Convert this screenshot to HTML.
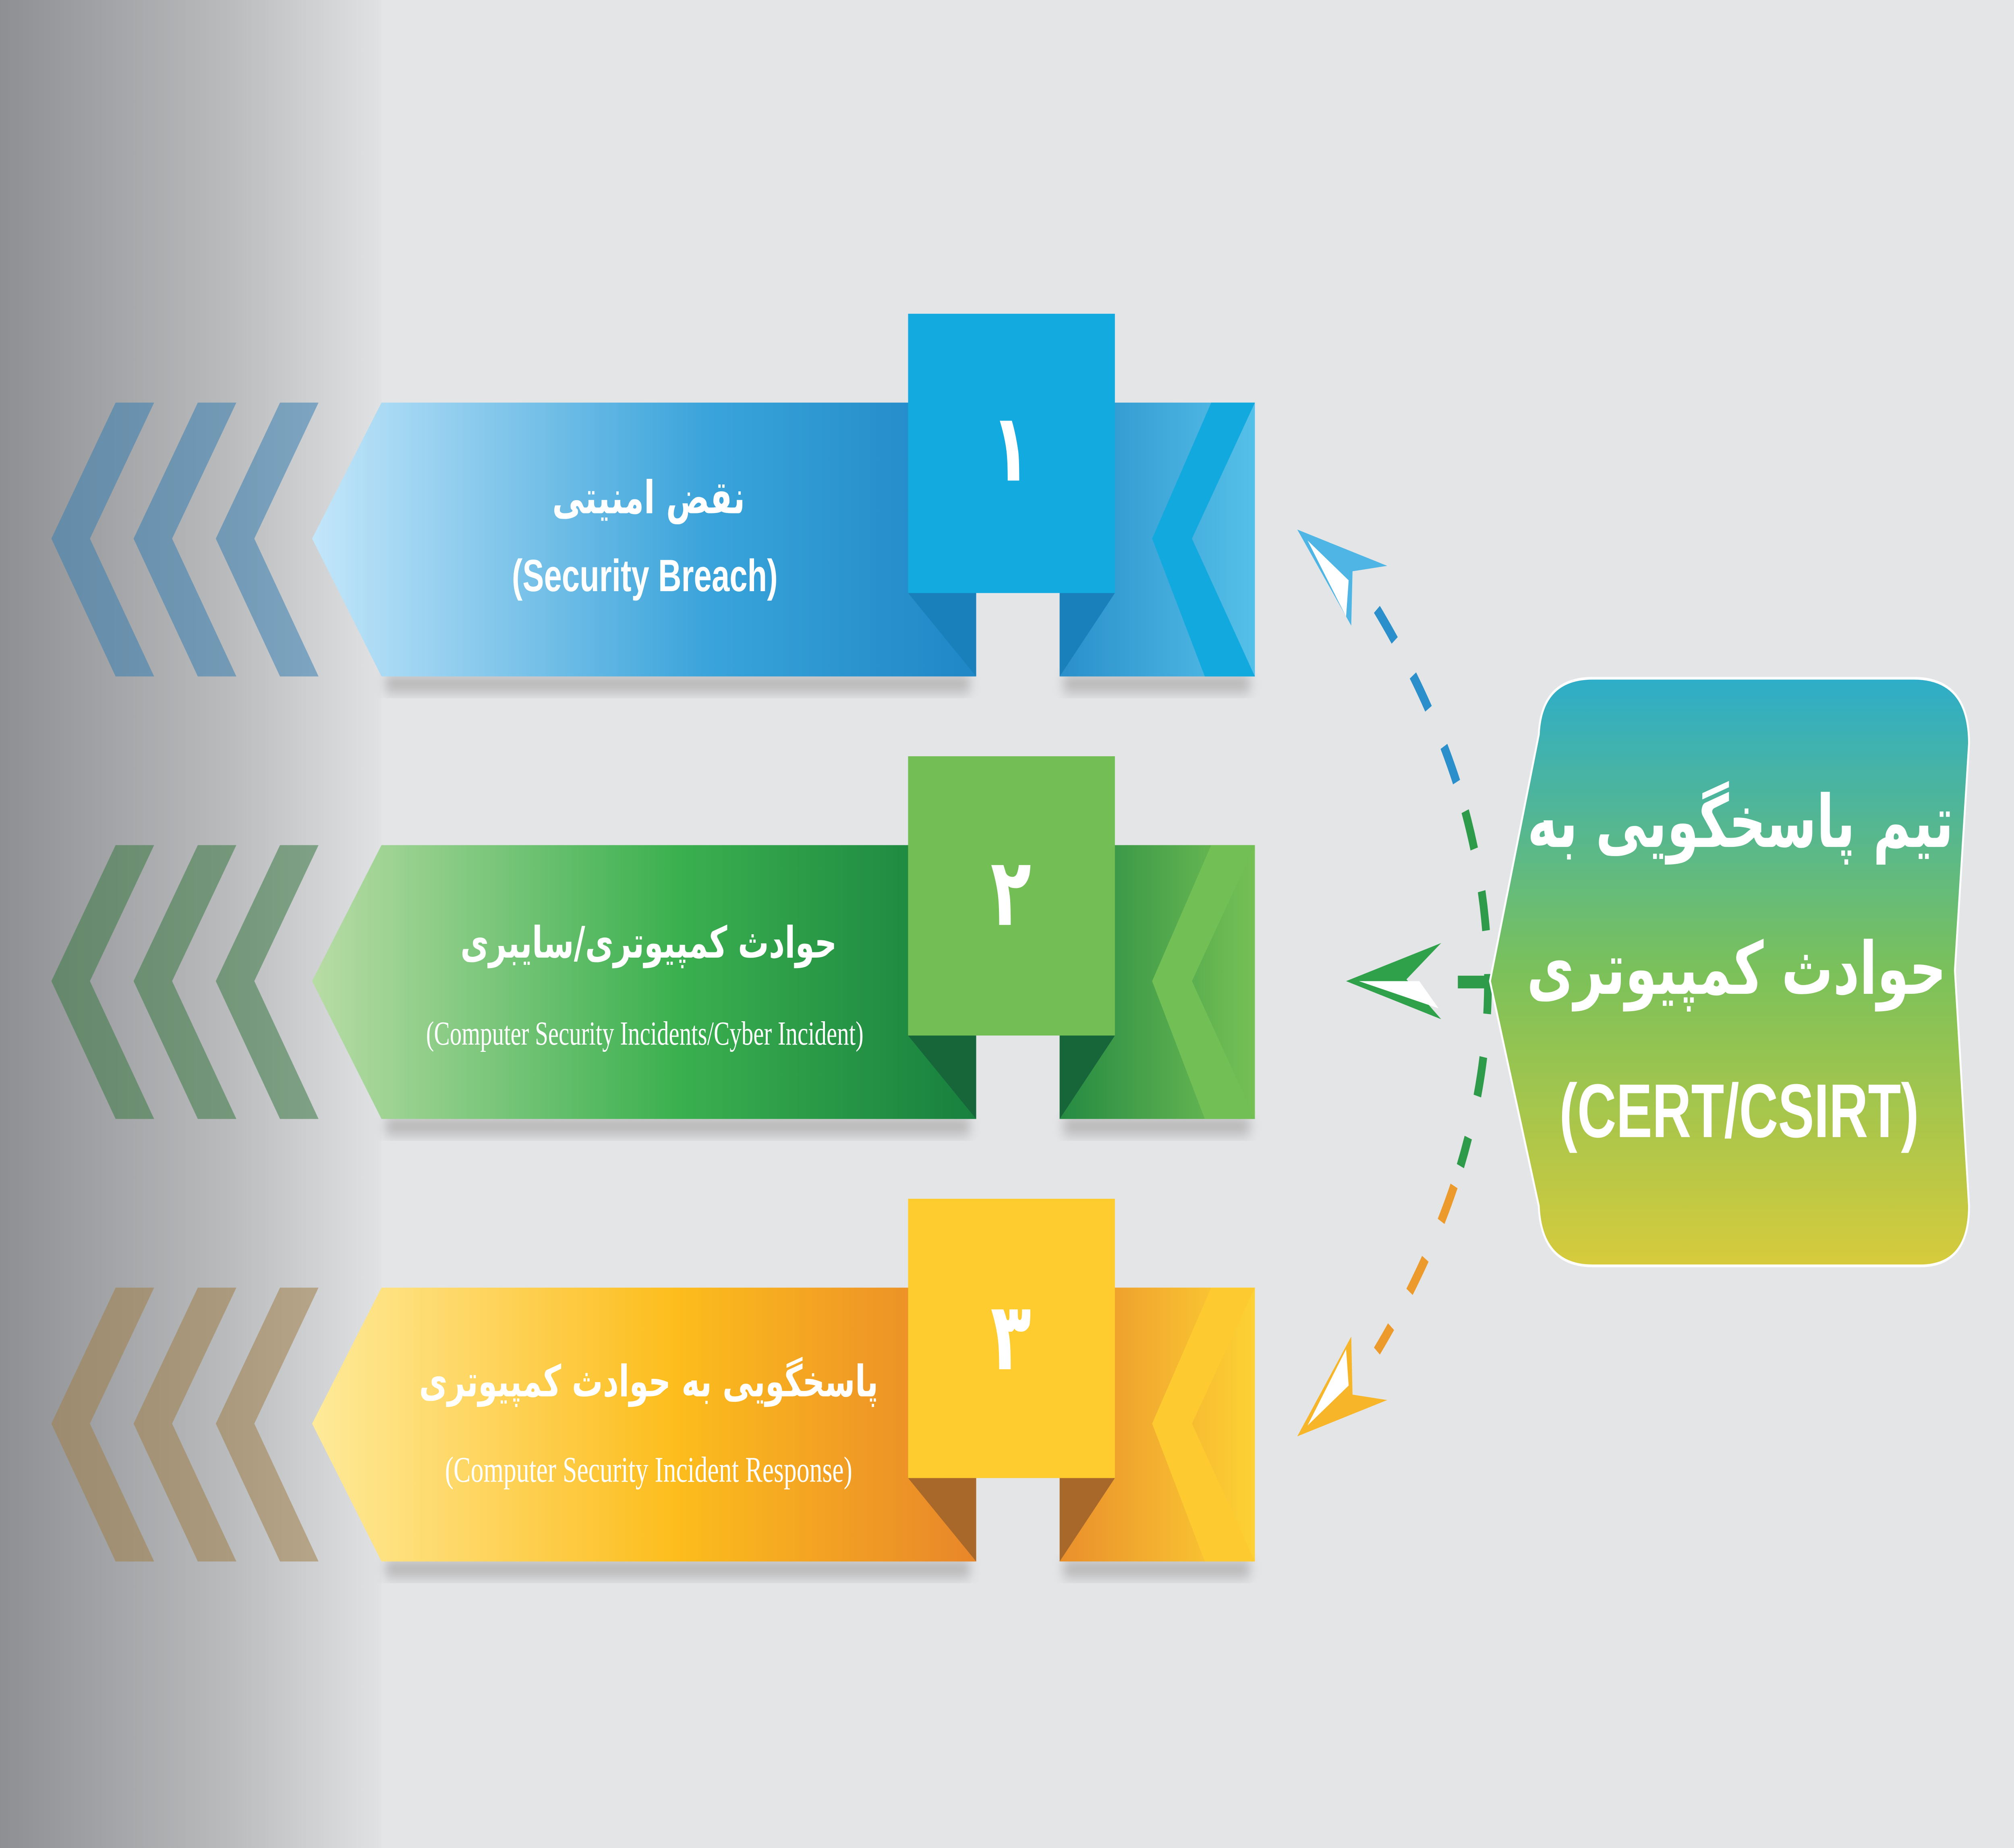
<!DOCTYPE html>
<html><head><meta charset="utf-8"><style>
html,body{margin:0;padding:0;background:#e3e5e7;width:100%;height:100%;overflow:hidden}
svg{position:fixed;left:0;top:0;width:100vw;height:100vh;display:block}
</style></head>
<body>
<svg viewBox="0 0 1568 1019" preserveAspectRatio="none" xmlns="http://www.w3.org/2000/svg">
<defs>
<linearGradient id="side" x1="0" x2="1" y1="0" y2="0"><stop offset="0" stop-color="#8d8f92"/><stop offset="0.6" stop-color="#b9bbbd"/><stop offset="1" stop-color="#e1e2e4"/></linearGradient>
<linearGradient id="b1" x1="0" x2="1"><stop offset="0" stop-color="#c3e6fa"/><stop offset="0.6" stop-color="#39a3da"/><stop offset="1" stop-color="#1f87c6"/></linearGradient>
<linearGradient id="b1r" x1="0" x2="1"><stop offset="0" stop-color="#2a8fca"/><stop offset="1" stop-color="#55c0e9"/></linearGradient>
<linearGradient id="g1" x1="0" x2="1"><stop offset="0" stop-color="#b8dca5"/><stop offset="0.55" stop-color="#3bb04f"/><stop offset="1" stop-color="#17803e"/></linearGradient>
<linearGradient id="g1r" x1="0" x2="1"><stop offset="0" stop-color="#258a42"/><stop offset="1" stop-color="#76c155"/></linearGradient>
<linearGradient id="o1" x1="0" x2="1"><stop offset="0" stop-color="#feea99"/><stop offset="0.55" stop-color="#fdbd1c"/><stop offset="1" stop-color="#e8862a"/></linearGradient>
<linearGradient id="o1r" x1="0" x2="1"><stop offset="0" stop-color="#ea8f2b"/><stop offset="1" stop-color="#fdd234"/></linearGradient>
<linearGradient id="box" x1="0" x2="0" y1="0" y2="1"><stop offset="0" stop-color="#2eadc9"/><stop offset="0.5" stop-color="#7bc15a"/><stop offset="1" stop-color="#d7cb3c"/></linearGradient>
<filter id="sh" x="-10%" y="-50%" width="120%" height="200%"><feGaussianBlur stdDeviation="4"/></filter>
</defs>
<rect width="1568" height="1019" fill="#e3e5e7"/>
<rect width="297" height="1019" fill="url(#side)"/>

<g>
<rect x="300" y="373" width="455" height="8" fill="#8a8686" opacity="0.6" filter="url(#sh)"/>
<rect x="828" y="373" width="145" height="8" fill="#8a8686" opacity="0.6" filter="url(#sh)"/>
<g fill="#3a7fb0" opacity="0.55">
<polygon points="40,297 90,222 120,222 70,297 120,373 90,373"/>
<polygon points="104,297 154,222 184,222 134,297 184,373 154,373"/>
<polygon points="168,297 218,222 248,222 198,297 248,373 218,373"/>
</g>
<polygon points="297,222 760,222 760,373 297,373 243,297" fill="url(#b1)"/>
<rect x="825" y="222" width="152" height="151" fill="url(#b1r)"/>
<polygon points="943,222 977,222 928,297 977,373 938,373 897,297" fill="#12a9de"/>
<polygon points="707,327 760,327 760,373" fill="#1a80bc"/>
<polygon points="825,327 868,327 825,373" fill="#1a80bc"/>
<rect x="707" y="173" width="161" height="154" fill="#13aadf"/>
<text x="787" y="265" font-family="DejaVu Sans, sans-serif" font-size="52" font-weight="bold" fill="#fff" text-anchor="middle">۱</text>
<text x="505" y="283" font-family="DejaVu Sans, sans-serif" font-size="25" font-weight="bold" fill="#fff" text-anchor="middle" direction="rtl">نقض امنیتی</text>
<text x="502" y="326" font-family="Liberation Sans, sans-serif" font-size="25" font-weight="bold" fill="#fff" text-anchor="middle">(Security Breach)</text>
</g>

<g>
<rect x="300" y="617" width="455" height="8" fill="#8a8686" opacity="0.6" filter="url(#sh)"/>
<rect x="828" y="617" width="145" height="8" fill="#8a8686" opacity="0.6" filter="url(#sh)"/>
<g fill="#3d7a45" opacity="0.55">
<polygon points="40,541 90,466 120,466 70,541 120,617 90,617"/>
<polygon points="104,541 154,466 184,466 134,541 184,617 154,617"/>
<polygon points="168,541 218,466 248,466 198,541 248,617 218,617"/>
</g>
<polygon points="297,466 760,466 760,617 297,617 243,541" fill="url(#g1)"/>
<rect x="825" y="466" width="152" height="151" fill="url(#g1r)"/>
<polygon points="943,466 977,466 928,541 977,617 938,617 897,541" fill="#72bf55"/>
<polygon points="707,571 760,571 760,617" fill="#17663a"/>
<polygon points="825,571 868,571 825,617" fill="#17663a"/>
<rect x="707" y="417" width="161" height="154" fill="#73bf55"/>
<text x="787" y="510" font-family="DejaVu Sans, sans-serif" font-size="52" font-weight="bold" fill="#fff" text-anchor="middle">۲</text>
<text x="505" y="528" font-family="DejaVu Sans, sans-serif" font-size="24" font-weight="bold" fill="#fff" text-anchor="middle" direction="rtl">حوادث کمپیوتری/سایبری</text>
<text x="502" y="576" font-family="Liberation Serif, serif" font-size="18.5" fill="#fff" text-anchor="middle">(Computer Security Incidents/Cyber Incident)</text>
</g>

<g>
<rect x="300" y="861" width="455" height="8" fill="#8a8686" opacity="0.6" filter="url(#sh)"/>
<rect x="828" y="861" width="145" height="8" fill="#8a8686" opacity="0.6" filter="url(#sh)"/>
<g fill="#a0804a" opacity="0.55">
<polygon points="40,785 90,710 120,710 70,785 120,861 90,861"/>
<polygon points="104,785 154,710 184,710 134,785 184,861 154,861"/>
<polygon points="168,785 218,710 248,710 198,785 248,861 218,861"/>
</g>
<polygon points="297,710 760,710 760,861 297,861 243,785" fill="url(#o1)"/>
<rect x="825" y="710" width="152" height="151" fill="url(#o1r)"/>
<polygon points="943,710 977,710 928,785 977,861 938,861 897,785" fill="#fdcb30"/>
<polygon points="707,815 760,815 760,861" fill="#a8682a"/>
<polygon points="825,815 868,815 825,861" fill="#a8682a"/>
<rect x="707" y="661" width="161" height="154" fill="#fecc2f"/>
<text x="787" y="755" font-family="DejaVu Sans, sans-serif" font-size="52" font-weight="bold" fill="#fff" text-anchor="middle">۳</text>
<text x="505" y="770" font-family="DejaVu Sans, sans-serif" font-size="24" font-weight="bold" fill="#fff" text-anchor="middle" direction="rtl">پاسخگویی به حوادث کمپیوتری</text>
<text x="505" y="817" font-family="Liberation Serif, serif" font-size="20" fill="#fff" text-anchor="middle">(Computer Security Incident Response)</text>
</g>

<path d="M1072,336 Q1115,387 1137,438" fill="none" stroke="#2a8fca" stroke-width="6" stroke-dasharray="22,24"/>
<path d="M1137,438 Q1180,541 1137,643" fill="none" stroke="#2d9b4a" stroke-width="6" stroke-dasharray="22,24" stroke-dashoffset="-10"/>
<path d="M1137,643 Q1115,694 1072,745" fill="none" stroke="#ec9a2b" stroke-width="6" stroke-dasharray="22,24" stroke-dashoffset="-12"/>
<rect x="1135" y="538" width="25" height="7" fill="#2d9b4a"/>
<polygon points="1010,292 1080,312 1053,315 1052,345" fill="#4eb5e4"/>
<polygon points="1018,298 1050,320 1048,340" fill="#fff"/>
<polygon points="1048,541 1122,520 1095,540 1122,562" fill="#2fa14b"/>
<polygon points="1058,541 1105,541 1120,556" fill="#fff"/>
<polygon points="1010,792 1080,772 1053,769 1052,737" fill="#f7b52a"/>
<polygon points="1018,786 1050,764 1048,744" fill="#fff"/>

<path d="M1240,374 L1490,374 Q1533,374 1533,410 L1522,535 L1533,665 Q1533,698 1495,698 L1240,698 Q1200,698 1198,665 L1160,541 L1198,405 Q1200,374 1240,374 Z" fill="url(#box)" stroke="#fff" stroke-width="1.5"/>
<text x="1355" y="467" font-family="DejaVu Sans, sans-serif" font-size="40" font-weight="bold" fill="#fff" text-anchor="middle" direction="rtl">تیم پاسخگویی به</text>
<text x="1352" y="548" font-family="DejaVu Sans, sans-serif" font-size="40" font-weight="bold" fill="#fff" text-anchor="middle" direction="rtl">حوادث کمپیوتری</text>
<text x="1354" y="627" font-family="Liberation Sans, sans-serif" font-size="42" font-weight="bold" fill="#fff" text-anchor="middle">(CERT/CSIRT)</text>
</svg>
</body></html>
